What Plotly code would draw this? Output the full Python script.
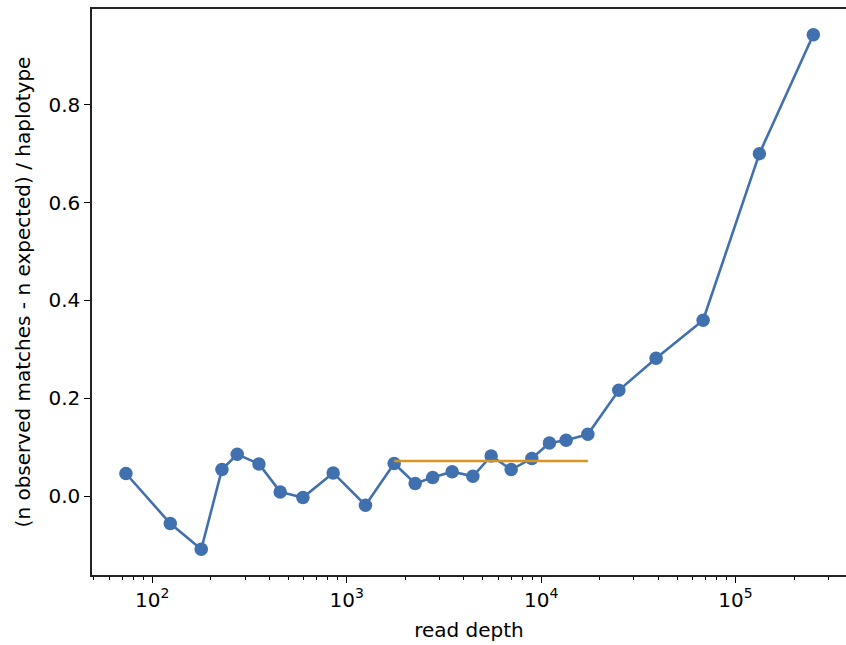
import plotly.graph_objects as go

# data
read_depth = [73.2, 123.8, 178.6, 228.2, 273.5, 353.7, 455, 595.5, 852, 1249,
              1754, 2250, 2768, 3486, 4455, 5533, 7012, 8957, 11030, 13445,
              17386, 25090, 39010, 68080, 132600, 251200]
excess_per_hap = [0.0464, -0.0558, -0.1083, 0.0545, 0.0858, 0.066, 0.0088, -0.0027,
                  0.0476, -0.0184, 0.0668, 0.0259, 0.0382, 0.0502, 0.0408, 0.0823,
                  0.0545, 0.077, 0.1089, 0.1144, 0.1266, 0.2165, 0.2819, 0.3595,
                  0.70, 0.943]
mean_x = [1754, 17386]
mean_y = [0.0721, 0.0721]

x_tick_vals = [100, 1000, 10000, 100000]
x_tick_text = ["10<sup>2</sup>", "10<sup>3</sup>", "10<sup>4</sup>", "10<sup>5</sup>"]
y_tick_vals = [0.0, 0.2, 0.4, 0.6, 0.8]

BLUE = "#4170ae"
ORANGE = "#d8951f"
FONT = "DejaVu Sans"
FS = 20

fig = go.Figure()
fig.add_trace(go.Scatter(
    x=read_depth, y=excess_per_hap, mode="lines+markers",
    line=dict(color=BLUE, width=2.6),
    marker=dict(color=BLUE, size=13.5, line=dict(width=0)),
    showlegend=False,
))
fig.add_trace(go.Scatter(
    x=mean_x, y=mean_y, mode="lines",
    line=dict(color=ORANGE, width=2.6),
    showlegend=False,
))

fig.update_layout(
    width=846, height=645,
    margin=dict(l=92, r=0, t=9, b=70),
    paper_bgcolor="white", plot_bgcolor="white",
    font=dict(family=FONT, size=FS, color="black"),
    xaxis=dict(
        type="log", range=[1.69, 5.568],
        tickvals=x_tick_vals, ticktext=x_tick_text,
        ticks="outside", ticklen=6, tickwidth=1.2, tickcolor="black",
        minor=dict(dtick="D1", ticks="outside", ticklen=3.5, tickwidth=1,
                   tickcolor="black", showgrid=False),
        showline=True, linecolor="#222", linewidth=1.5, mirror=True,
        showgrid=False, zeroline=False,
        tickfont=dict(family=FONT, size=FS),
        title=dict(text="read depth", font=dict(family=FONT, size=FS), standoff=12),
    ),
    yaxis=dict(
        range=[-0.161, 0.9956],
        tickvals=y_tick_vals, tickformat=".1f",
        ticks="outside", ticklen=6, tickwidth=1.2, tickcolor="black",
        showline=True, linecolor="#222", linewidth=1.5, mirror=False,
        showgrid=False, zeroline=False,
        tickfont=dict(family=FONT, size=FS),
        title=dict(text="(n observed matches - n expected) / haplotype",
                   font=dict(family=FONT, size=FS), standoff=12),
    ),
)

fig.write_html(
    "out.html",
    config={"displayModeBar": False},
    post_script=("document.body.style.margin='0';"
                 "document.body.style.overflow='hidden';"
                 "document.documentElement.style.overflow='hidden';"),
)
